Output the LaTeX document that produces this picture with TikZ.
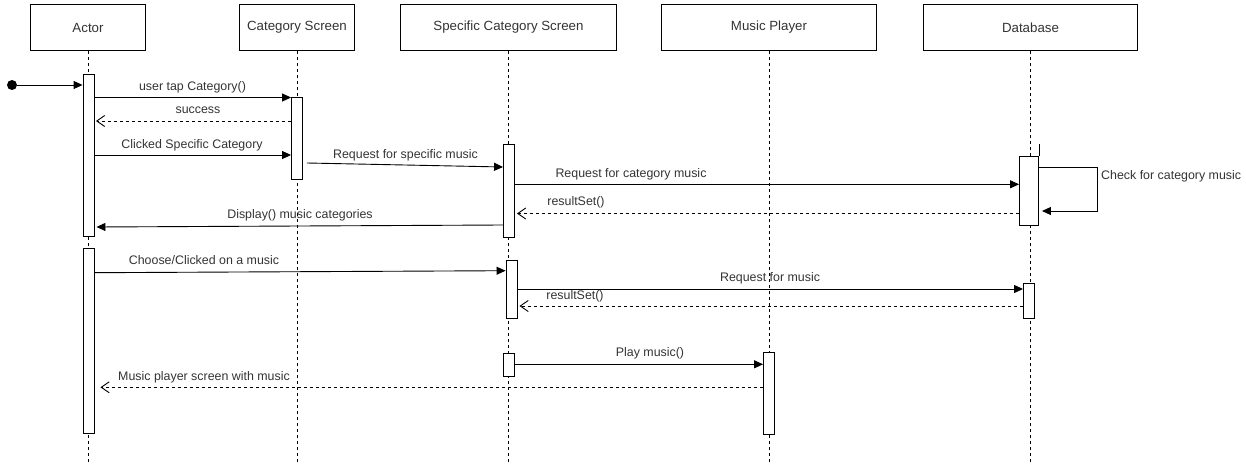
\documentclass[tikz,border=0pt]{standalone}
\usepackage{fontspec}
\setmainfont{Liberation Sans}
\usetikzlibrary{arrows.meta,positioning}
\tikzset{
	head/.style={draw, line width=0.9pt, minimum height=46pt, inner sep=0pt, text=black!80, font=\fontsize{13.3}{15}\selectfont}, % lifeline heads
	bar/.style={draw, line width=0.9pt, fill=white, minimum width=11pt, inner sep=0pt, anchor=north}, % activation bars
	life/.style={dash pattern=on 3pt off 3pt, line width=0.8pt},
	msg/.style={-{Triangle[length=9pt,width=8pt]}, line width=0.9pt},
	ret/.style={-{Straight Barb[length=8pt,width=11pt,line width=0.9pt]}, dash pattern=on 3pt off 3pt, line width=0.9pt},
	lbl/.style={text=black!80, font=\fontsize{12.4}{14}\selectfont, inner sep=0pt},
}
\begin{document}
\begin{tikzpicture}[x=1pt,y=-1pt]
	\useasboundingbox (0,0) rectangle (1246,465);
	% heads
	\node[head, minimum width=115pt] (actor) at (88,27.5) {Actor};
	\node[head, minimum width=115pt] (cat) at (297,27.5) {Category Screen};
	\node[head, minimum width=216pt] (spec) at (508.5,27.5) {Specific Category Screen};
	\node[head, minimum width=215pt] (player) at (769,27.5) {Music Player};
	\node[head, minimum width=214pt] (db) at (1030.5,27.5) {Database};
	% lifelines
	\foreach \h in {actor,cat,spec,player,db}
		\draw[life] (\h.south) -- (\h.south |- 0,465);
	% activation bars
	\node[bar, minimum height=162pt] (actA) at (88.5,74) {};
	\node[bar, minimum height=185pt] (actB) at (88.5,248.3) {};
	\node[bar, minimum height=81pt] (catA) at (297,97.5) {};
	\node[bar, minimum height=92.5pt] (speA) at (509,144) {};
	\node[bar, minimum height=57.5pt] (speB) at (511.5,260) {};
	\node[bar, minimum height=23.3pt] (speC) at (509,352.7) {};
	\node[bar, minimum height=81.5pt] (musA) at (769,352.3) {};
	\node[bar, minimum width=19pt, minimum height=69pt] (dbA) at (1029,156) {};
	\node[bar, minimum height=35pt] (dbB) at (1029,282.7) {};
	\draw[line width=0.9pt] (dbA.north east) -- ++(0,-12);
	% start
	\node[circle, fill, inner sep=0pt, minimum size=10pt] (start) at (12,85) {};
	\draw[msg] (start) -- (actA.west |- start);
	% messages
	\draw[msg] (actA.east |- 0,97.5) -- (catA.west |- 0,97.5);
	\node[lbl] (m1) at (192.5,87.3) {user tap Category()};
	\draw[ret] (catA.west |- 0,121) -- ([xshift=1.5pt]actA.east |- 0,121);
	\node[lbl] (m2) at (198,110) {success};
	\draw[msg] (actA.east |- 0,155) -- (catA.west |- 0,155);
	\node[lbl] (m3) at (192,145) {Clicked Specific Category};
	\draw[msg] ([xshift=4pt]catA.east |- 0,163) -- (speA.west |- 0,167);
	\node[lbl] (m4) at (405.5,155) {Request for specific music};
	\draw[msg] (speA.east |- 0,184.3) -- (dbA.west |- 0,184.3);
	\node[lbl] (m5) at (631,174) {Request for category music};
	\coordinate (loop) at (1097,167);
	\draw[msg] (dbA.east |- loop) -- (loop) -- (loop |- 0,211) -- ([xshift=3pt]dbA.east |- 0,211);
	\node[lbl, anchor=west] (m6) at (1101,176.7) {Check for category music};
	\draw[ret] (dbA.west |- 0,213.5) -- ([xshift=2pt]speA.east |- 0,213.5);
	\node[lbl] (m7) at (576,202.7) {resultSet()};
	\draw[msg] (speA.west |- 0,225) -- ([xshift=2pt]actA.east |- 0,227);
	\node[lbl] (m8) at (300,215.7) {Display() music categories};
	\draw[msg] (actB.east |- 0,272.7) -- (speB.west |- 0,270.7);
	\node[lbl] (m9) at (204,260) {Choose/Clicked on a music};
	\draw[msg] (speB.east |- 0,289) -- (dbB.west |- 0,289);
	\node[lbl] (m10) at (770,278) {Request for music};
	\draw[ret] (dbB.west |- 0,306) -- ([xshift=2pt]speB.east |- 0,306);
	\node[lbl] (m11) at (575,296) {resultSet()};
	\draw[msg] (speC.east |- 0,364.3) -- (musA.west |- 0,364.3);
	\node[lbl] (m12) at (650,353) {Play music()};
	\draw[ret] (musA.west |- 0,387.3) -- ([xshift=6pt]actB.east |- 0,387.3);
	\node[lbl, anchor=west] (m13) at (118,377) {Music player screen with music};
\end{tikzpicture}
\end{document}
